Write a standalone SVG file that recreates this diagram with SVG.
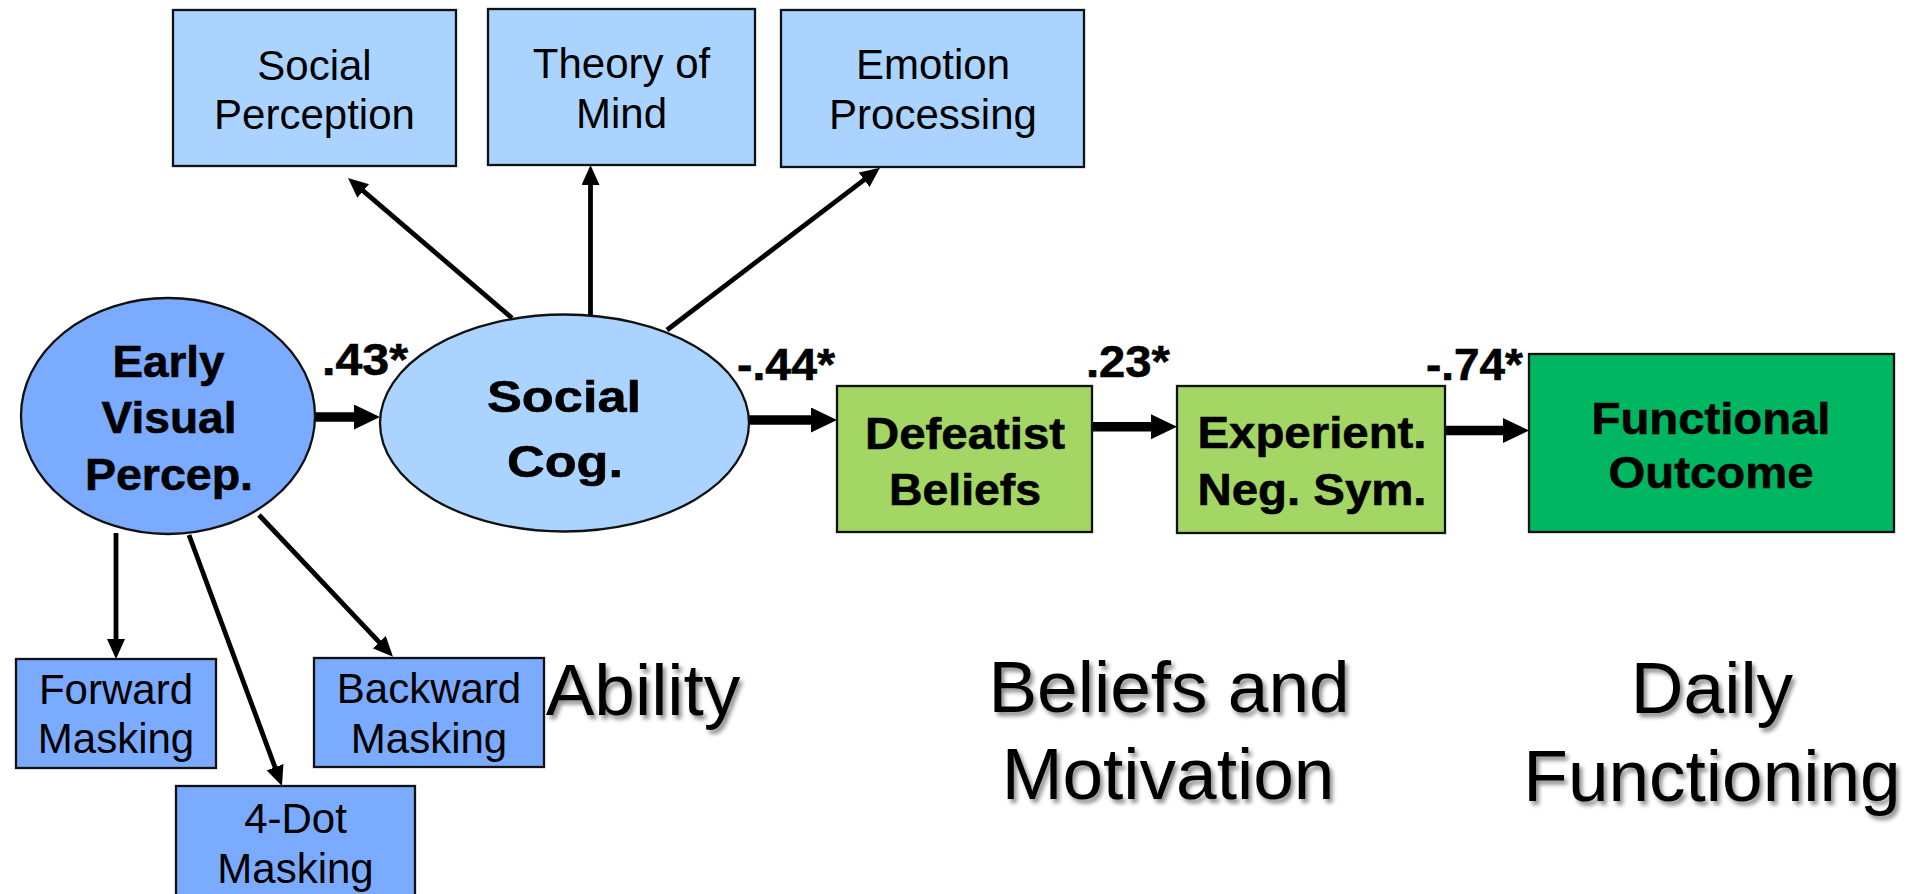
<svg xmlns="http://www.w3.org/2000/svg" width="1907" height="894" viewBox="0 0 1907 894">
<style>
.box{stroke:#111;stroke-width:2.3}
.lb{fill:#AAD4FF}
.db{fill:#7BABFF}
.gr{fill:#A3D664}
.dg{fill:#00B661}
.t{font-family:"Liberation Sans",Arial,sans-serif;font-size:42px;fill:#000;text-anchor:middle}
.b{font-family:"Liberation Sans",Arial,sans-serif;font-weight:bold;font-size:45px;fill:#000;stroke:#000;stroke-width:0.6;text-anchor:middle}
.n{font-family:"Liberation Sans",Arial,sans-serif;font-weight:bold;font-size:45px;fill:#000;stroke:#000;stroke-width:0.6}
.big{font-family:"Liberation Sans",Arial,sans-serif;font-size:73px;fill:#000;text-anchor:middle;filter:url(#sh)}
.thin{stroke:#000;stroke-width:4.8;fill:none;marker-end:url(#ah)}
.thick{stroke:#000;stroke-width:9.5;fill:none;marker-end:url(#AH)}
</style>
<defs>
<marker id="ah" markerUnits="userSpaceOnUse" markerWidth="22" markerHeight="20" refX="2" refY="9" orient="auto">
<path d="M0,0 L20,9 L0,18 z" fill="#000"/>
</marker>
<marker id="AH" markerUnits="userSpaceOnUse" markerWidth="28" markerHeight="26" refX="1" refY="12.5" orient="auto">
<path d="M0,0 L26,12.5 L0,25 z" fill="#000"/>
</marker>
<filter id="sh" x="-10%" y="-20%" width="130%" height="150%">
<feDropShadow dx="3" dy="4" stdDeviation="2" flood-color="#000" flood-opacity="0.45"/>
</filter>
</defs>

<g id="connectors">
<line class="thin" x1="512" y1="318" x2="361.7" y2="189.7"/>
<line class="thin" x1="590.5" y1="315" x2="590.5" y2="183"/>
<line class="thin" x1="667" y1="330" x2="865.7" y2="178.6"/>
<line class="thin" x1="116" y1="533" x2="116" y2="641"/>
<line class="thin" x1="189" y1="535" x2="275.7" y2="769.1"/>
<line class="thin" x1="259" y1="515" x2="380.6" y2="643.6"/>
<line class="thick" x1="314" y1="417" x2="355" y2="417"/>
<line class="thick" x1="748" y1="420" x2="812" y2="420"/>
<line class="thick" x1="1092" y1="426.7" x2="1152" y2="426.7"/>
<line class="thick" x1="1445" y1="430.5" x2="1504" y2="430.5"/>
</g>

<g id="social-perception">
<rect class="box lb" x="173" y="10" width="283" height="156"/>
<text class="t" x="314.5" y="80">Social</text>
<text class="t" x="314.5" y="129">Perception</text>
</g>
<g id="theory-of-mind">
<rect class="box lb" x="488" y="9" width="267" height="156"/>
<text class="t" x="621.5" y="78">Theory of</text>
<text class="t" x="621.5" y="128">Mind</text>
</g>
<g id="emotion-processing">
<rect class="box lb" x="781" y="10" width="303" height="157"/>
<text class="t" x="933" y="79">Emotion</text>
<text class="t" x="933" y="129">Processing</text>
</g>

<g id="early-visual">
<ellipse class="box db" cx="168" cy="416" rx="147" ry="118" stroke-width="2"/>
<text class="b" x="168.5" y="377" textLength="112" lengthAdjust="spacingAndGlyphs">Early</text>
<text class="b" x="169" y="433" textLength="135" lengthAdjust="spacingAndGlyphs">Visual</text>
<text class="b" x="169" y="490" textLength="168" lengthAdjust="spacingAndGlyphs">Percep.</text>
</g>
<g id="social-cog">
<ellipse class="box lb" cx="564.5" cy="423" rx="184.5" ry="108.5" stroke-width="2"/>
<text class="b" x="564" y="412" font-size="52" textLength="154" lengthAdjust="spacingAndGlyphs">Social</text>
<text class="b" x="565" y="477" font-size="52" textLength="116" lengthAdjust="spacingAndGlyphs">Cog.</text>
</g>

<g id="forward-masking">
<rect class="box db" x="16" y="659" width="200" height="109"/>
<text class="t" x="116" y="704">Forward</text>
<text class="t" x="116" y="753">Masking</text>
</g>
<g id="backward-masking">
<rect class="box db" x="314" y="658" width="230" height="109"/>
<text class="t" x="429" y="703">Backward</text>
<text class="t" x="429" y="752.5">Masking</text>
</g>
<g id="four-dot-masking">
<rect class="box db" x="176" y="786" width="239" height="130"/>
<text class="t" x="295.5" y="833">4-Dot</text>
<text class="t" x="295.5" y="883">Masking</text>
</g>

<g id="defeatist-beliefs">
<rect class="box gr" x="837" y="386" width="255" height="146"/>
<text class="b" x="965" y="449" textLength="200" lengthAdjust="spacingAndGlyphs">Defeatist</text>
<text class="b" x="965" y="505" textLength="152" lengthAdjust="spacingAndGlyphs">Beliefs</text>
</g>
<g id="experient-neg-sym">
<rect class="box gr" x="1177" y="386" width="268" height="147"/>
<text class="b" x="1312" y="448" textLength="229" lengthAdjust="spacingAndGlyphs">Experient.</text>
<text class="b" x="1312" y="505" textLength="229" lengthAdjust="spacingAndGlyphs">Neg. Sym.</text>
</g>
<g id="functional-outcome">
<rect class="box dg" x="1529" y="354" width="365" height="178"/>
<text class="b" x="1711" y="434" textLength="239" lengthAdjust="spacingAndGlyphs">Functional</text>
<text class="b" x="1711" y="488" textLength="205" lengthAdjust="spacingAndGlyphs">Outcome</text>
</g>

<g id="path-labels">
<text class="n" x="322" y="375" textLength="86" lengthAdjust="spacingAndGlyphs">.43*</text>
<text class="n" x="737" y="380" textLength="98" lengthAdjust="spacingAndGlyphs">-.44*</text>
<text class="n" x="1086" y="377" textLength="84" lengthAdjust="spacingAndGlyphs">.23*</text>
<text class="n" x="1426" y="380" textLength="97" lengthAdjust="spacingAndGlyphs">-.74*</text>
</g>

<g id="stage-labels">
<text class="big" x="643" y="715">Ability</text>
<text class="big" x="1169" y="712">Beliefs and</text>
<text class="big" x="1168" y="799">Motivation</text>
<text class="big" x="1712" y="713">Daily</text>
<text class="big" x="1712" y="801">Functioning</text>
</g>
</svg>
